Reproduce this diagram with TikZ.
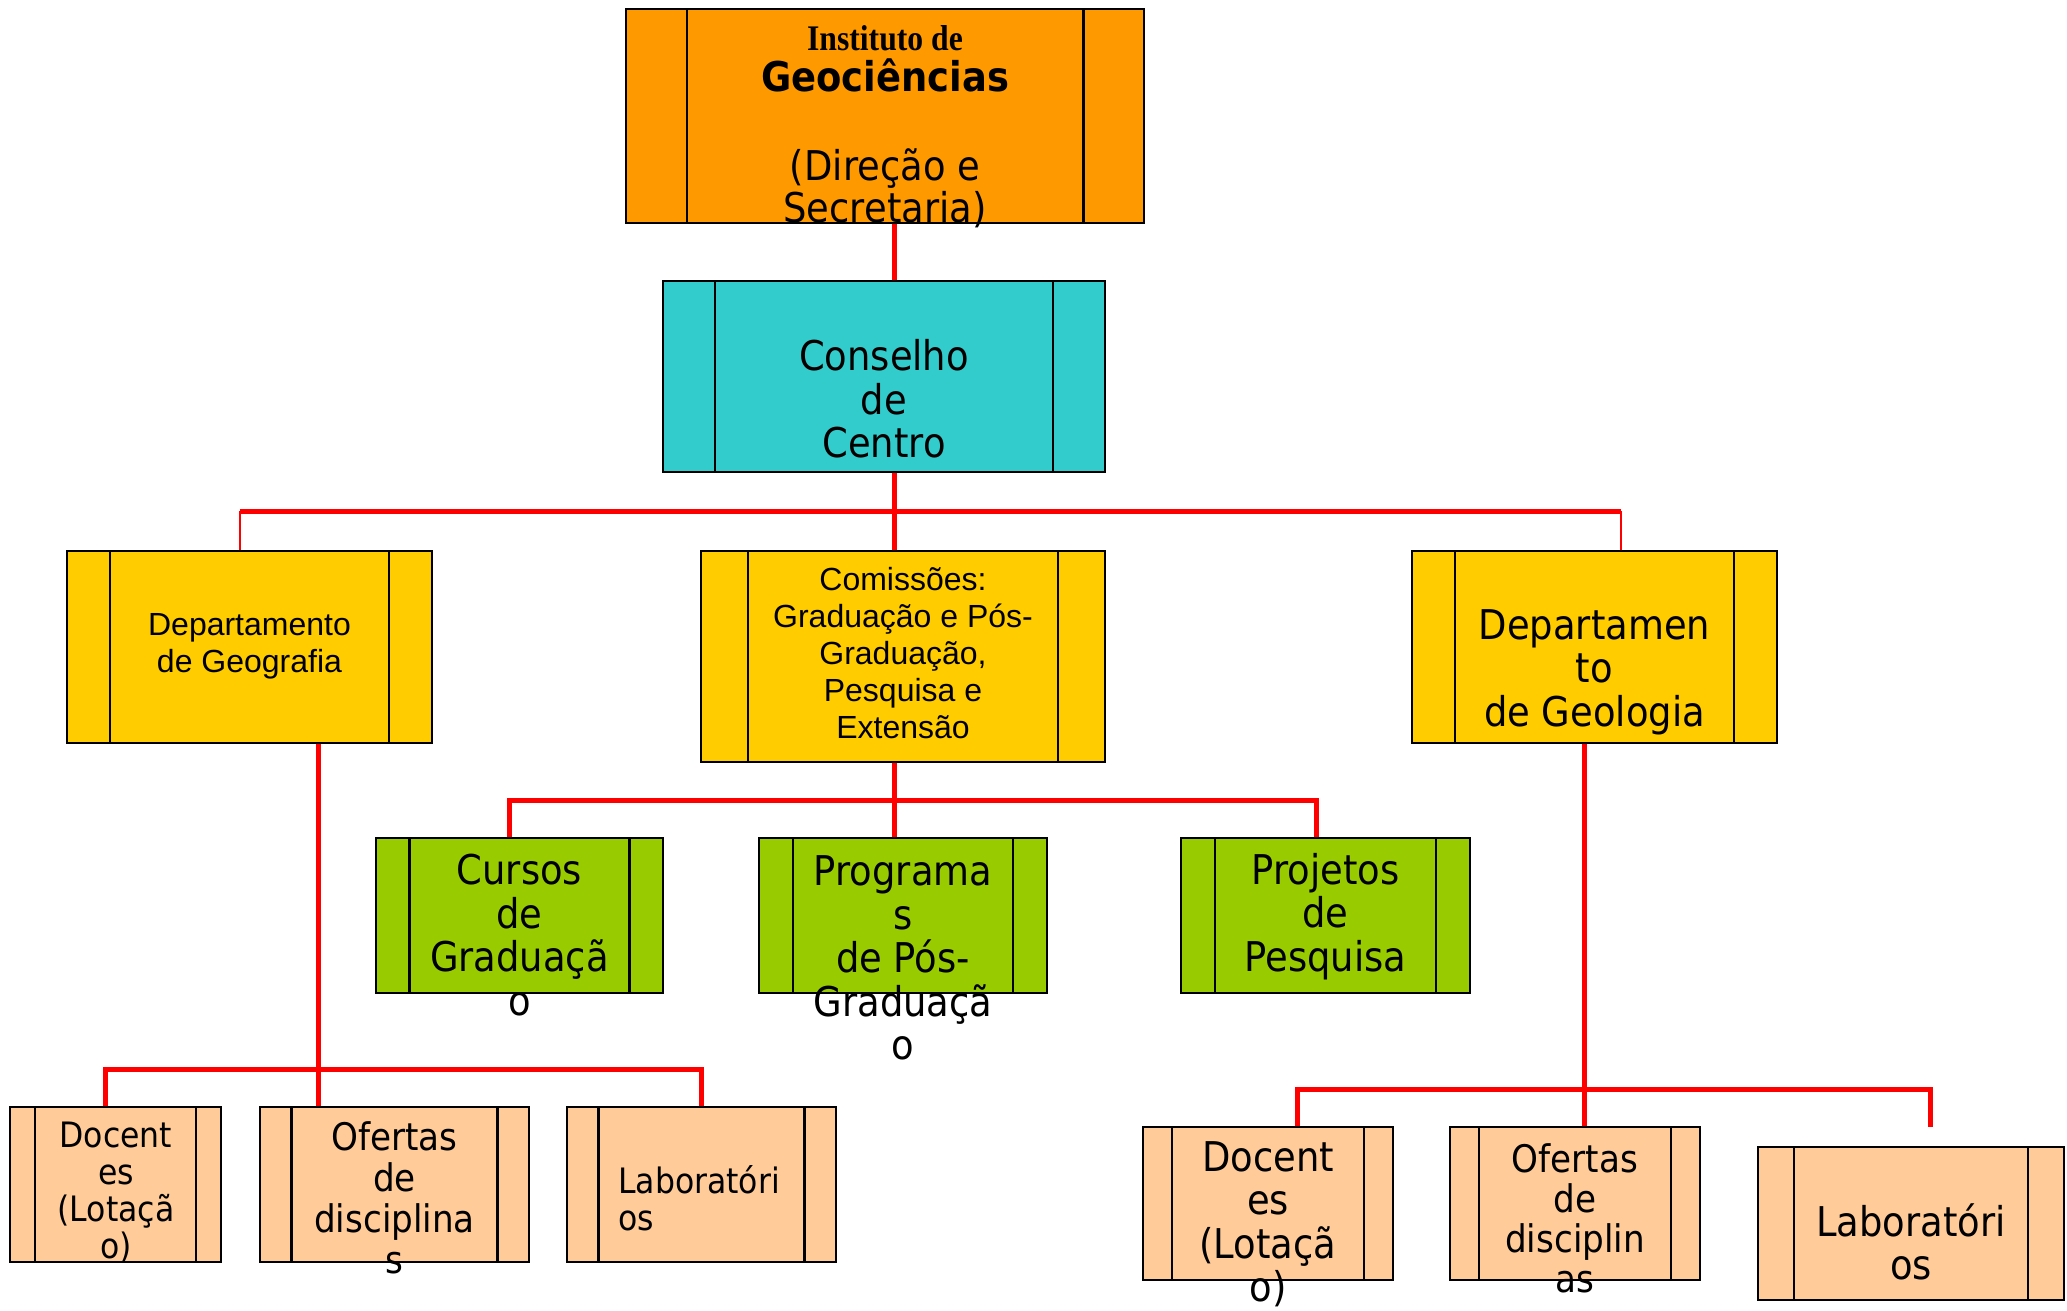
\documentclass[tikz,border=0pt]{standalone}
\usepackage{fontspec}
\usetikzlibrary{calc,fit}
\newfontfamily\dvs[FakeStretch=0.9]{DejaVu Sans}
\newfontfamily\arialf{Liberation Sans}
\newfontfamily\timesf[FakeStretch=0.88]{Liberation Serif}
\def\fs#1#2{\fontsize{#1}{#2}\selectfont}
\definecolor{instOrange}{HTML}{FF9900}
\definecolor{consCyan}{HTML}{33CCCC}
\definecolor{deptYellow}{HTML}{FFCC00}
\definecolor{unitGreen}{HTML}{99CC00}
\definecolor{baseBeige}{HTML}{FFCC99}
\definecolor{linkRed}{HTML}{FF0000}
\tikzset{
  procbox/.style={draw=black, line width=1.8pt, inner sep=0pt,
    path picture={
      \draw[line width=2.2pt]
        ($(path picture bounding box.north west)!0.117!(path picture bounding box.north east)$) --
        ($(path picture bounding box.south west)!0.117!(path picture bounding box.south east)$)
        ($(path picture bounding box.north east)!0.117!(path picture bounding box.north west)$) --
        ($(path picture bounding box.south east)!0.117!(path picture bounding box.south west)$);}},
  link/.style={draw=linkRed, line width=5pt},
  thinlink/.style={draw=linkRed, line width=2pt},
  txt/.style={inner sep=0pt, align=center, font=\dvs\fs{41}{43.5}}
}

\begin{document}
\begin{tikzpicture}[x=1pt, y=-1pt]
			\useasboundingbox (0,0) rectangle (2067,1310);
			%%%%% BOXES %%%%%
			\node[procbox, fill=instOrange, fit={(626,9) (1144,223)}] (inst) {};
			\node[procbox, fill=consCyan, fit={(663,281) (1105,472)}] (cons) {};
			
			\node[procbox, fill=deptYellow, fit={(67,551) (432,743)}] (depgeo) {};
			\node[procbox, fill=deptYellow, fit={(701,551) (1105,762)}] (comis) {};
			\node[procbox, fill=deptYellow, fit={(1412,551) (1777,743)}] (depgeol) {};
			
			\node[procbox, fill=unitGreen, fit={(376,838) (663,993)}] (cursos) {};
			\node[procbox, fill=unitGreen, fit={(759,838) (1047,993)}] (progr) {};
			\node[procbox, fill=unitGreen, fit={(1181,838) (1470,993)}] (proj) {};
			
			\node[procbox, fill=baseBeige, fit={(10,1107) (221,1262)}] (docL) {};
			\node[procbox, fill=baseBeige, fit={(260,1107) (529,1262)}] (ofL) {};
			\node[procbox, fill=baseBeige, fit={(567,1107) (836,1262)}] (labL) {};
			
			\node[procbox, fill=baseBeige, fit={(1143,1127) (1393,1280)}] (docR) {};
			\node[procbox, fill=baseBeige, fit={(1450,1127) (1700,1280)}] (ofR) {};
			\node[procbox, fill=baseBeige, fit={(1758,1147) (2064,1300)}] (labR) {};
			
			%%%%% CONNECTORS %%%%%
			\coordinate (spine) at (894,511);
			\coordinate (geoTop) at (240,511);
			\coordinate (geolTop) at (1621,511);
			\draw[link] (inst.south -| spine) -- (cons.north -| spine);
			\draw[link] (cons.south -| spine) -- (comis.north -| spine);
			\draw[link] (geoTop) -- (geolTop);
			\draw[thinlink] (geoTop) -- (geoTop |- depgeo.north);
			\draw[thinlink] (geolTop) -- (geolTop |- depgeol.north);
			
			\coordinate (cursTop) at (509,800);
			\coordinate (projTop) at (1316,800);
			\draw[link] (cursTop |- cursos.north) -- (cursTop) -- (projTop) -- (projTop |- proj.north);
			\draw[link] (comis.south -| spine) -- (progr.north -| spine);
			
			\coordinate (docLTop) at (105,1069);
			\coordinate (labLTop) at (701,1069);
			\coordinate (geoStem) at (318,1069);
			\draw[link] (docLTop |- docL.north) -- (docLTop) -- (labLTop) -- (labLTop |- labL.north);
			\draw[link] (geoStem |- depgeo.south) -- (geoStem |- ofL.north);
			
			\coordinate (docRTop) at (1297,1089);
			\coordinate (labRTop) at (1930,1089);
			\coordinate (labREnd) at (1930,1127);
			\coordinate (geolStem) at (1584,1089);
			\draw[link] (docRTop |- docR.north) -- (docRTop) -- (labRTop) -- (labREnd);
			\draw[link] (geolStem |- depgeol.south) -- (geolStem |- ofR.north);
			
			%%%%% TEXTS %%%%%
			\node[txt, font=\dvs\fs{41}{41}] (inst-t) at (885,59) {{\timesf\bfseries\fs{36}{41}Instituto de}\\{\bfseries Geociências}};
			\node[txt, font=\dvs\fs{41}{42}] (inst-s) at (885,188) {(Direção e\\Secretaria)};
			\node[txt] (cons-t) at (884,399) {Conselho\\de\\Centro};
			
			\node[txt, font=\arialf\fs{32}{37}] (depgeo-t) at (249.5,646) {Departamento\\de Geografia};
			\node[txt, font=\arialf\fs{32}{37}] (comis-t) at (903,653) {Comissões:\\Graduação e Pós-\\Graduação,\\Pesquisa e\\Extensão};
			\node[txt] (depgeol-t) at (1594.5,672) {Departamen\\to\\de Geologia};
			
			\node[txt] (cursos-t) at (519.5,935) {Cursos\\de\\Graduaçã\\o};
			\node[txt] (progr-t) at (903,958) {Programa\\s\\de Pós-\\Graduaçã\\o};
			\node[txt] (proj-t) at (1325.5,916.5) {Projetos\\de\\Pesquisa};
			
			\node[txt, font=\dvs\fs{35}{37}] (docL-t) at (116,1193) {Docent\\es\\(Lotaçã\\o)};
			\node[txt, font=\dvs\fs{38}{41}] (ofL-t) at (394.5,1198) {Ofertas\\de\\disciplina\\s};
			\node[txt, font=\dvs\fs{35}{37}, align=left, anchor=west] (labL-t) at (618,1198) {Laboratóri\\os};
			
			\node[txt] (docR-t) at (1268,1224) {Docent\\es\\(Lotaçã\\o)};
			\node[txt, font=\dvs\fs{38}{40}] (ofR-t) at (1575,1218) {Ofertas\\de\\disciplin\\as};
			\node[txt] (labR-t) at (1911,1242) {Laboratóri\\os};
\end{tikzpicture}
\end{document}
